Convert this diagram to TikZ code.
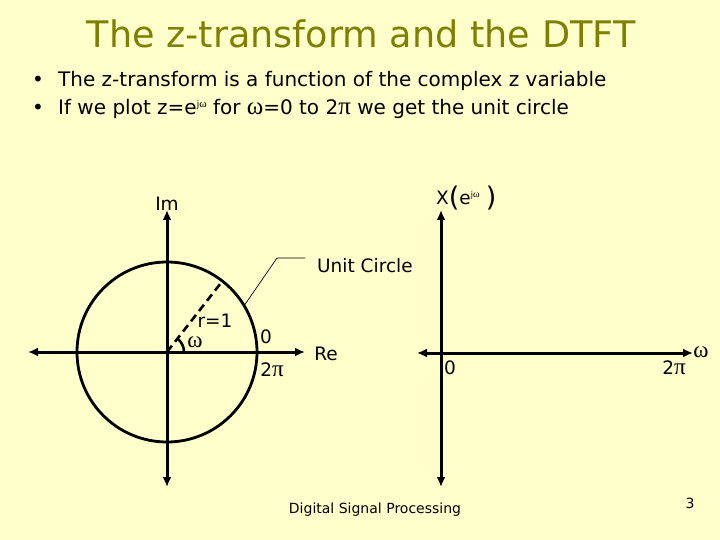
\documentclass[tikz,border=0pt]{standalone}
\usepackage{fontspec}
\setmainfont{DejaVu Sans}
\newfontfamily\symf[Scale=1.25]{Liberation Serif}
\usetikzlibrary{arrows.meta,calc}
\definecolor{bg}{RGB}{255,255,204}
\definecolor{olive}{RGB}{128,128,0}
\tikzset{
  biaxis/.style={line width=3pt,{Latex[length=10pt,width=9pt]}-{Latex[length=10pt,width=9pt]}},
  lbl/.style={font=\fontsize{18.5}{20}\selectfont,inner sep=0pt},
  bullet/.style={font=\fontsize{20}{24}\selectfont,inner sep=0pt,anchor=west},
}
\begin{document}
\begin{tikzpicture}[x=1pt,y=-1pt]
\fill[bg] (0,0) rectangle (720,540);
\useasboundingbox (0,0) rectangle (720,540);
% title and bullets
\node[font=\fontsize{36.6}{40}\selectfont,text=olive,inner sep=0pt] (title) at (361,34) {The z-transform and the DTFT};
\node[bullet] (b1d) at (32,81) {•};
\node[bullet] (b1) at (58,81) {The z-transform is a function of the complex z variable};
\node[bullet] (b2d) at (32,109) {•};
\node[bullet] (b2) at (58,109) {If we plot z=e\raisebox{0.6ex}{\fontsize{9}{9}\selectfont j{\symf ω}} for {\symf ω}=0 to 2{\symf π} we get the unit circle};
% left: unit circle
\coordinate (O) at (167,352);
\coordinate (imtop) at (167,210);
\coordinate (imbot) at (167,487);
\coordinate (reL) at (28,352);
\coordinate (reR) at (305,352);
\draw[biaxis] (imbot) -- (imtop);
\draw[biaxis] (reL) -- (reR);
\draw[line width=2.8pt] (O) circle[radius=90];
\coordinate (P) at ($(O)+(-52:90)$);
\draw[line width=2.6pt,dash pattern=on 8pt off 5pt] (O) -- (P);
\draw[line width=2.6pt] (O) ++(17,0) arc[start angle=0,end angle=-52,radius=17];
\node[lbl] (om) at (195,342) {\symf ω};
\node[lbl] (r1) at (215,321) {r=1};
\node[lbl] (z0) at (266,337) {0};
\node[lbl] (zpi) at (272,370) {2{\symf π}};
\node[lbl] (im) at (167,204) {Im};
\node[lbl] (re) at (326,354) {Re};
\node[lbl,anchor=west] (uc) at (317,266) {Unit Circle};
\coordinate (c1) at ($(O)+(-31:90)$);
\coordinate (k1) at (277,258);
\coordinate (k2) at (305,258);
\draw[line width=0.7pt] (c1) -- (k1) -- (k2);
% right: DTFT axes
\coordinate (rtop) at (441,210);
\coordinate (rbot) at (441,487);
\coordinate (rl) at (417,353);
\coordinate (rr) at (693,353);
\draw[biaxis] (rbot) -- (rtop);
\draw[biaxis] (rl) -- (rr);
\node[lbl] (rz) at (450,368) {0};
\node[lbl] (r2pi) at (674,368) {2{\symf π}};
\node[lbl] (rom) at (701,352) {\symf ω};
\node[lbl,anchor=west] (X) at (436,198) {X\raisebox{-2pt}{\fontsize{27}{27}\selectfont(}e\raisebox{0.7ex}{\fontsize{8}{8}\selectfont j{\symf ω}}\,\,\raisebox{-2pt}{\fontsize{27}{27}\selectfont)}};
% footer
\node[font=\fontsize{14}{16}\selectfont,inner sep=0pt] (foot) at (375,510) {Digital Signal Processing};
\node[font=\fontsize{14}{16}\selectfont,inner sep=0pt] (pg) at (690,503) {3};
\end{tikzpicture}
\end{document}
